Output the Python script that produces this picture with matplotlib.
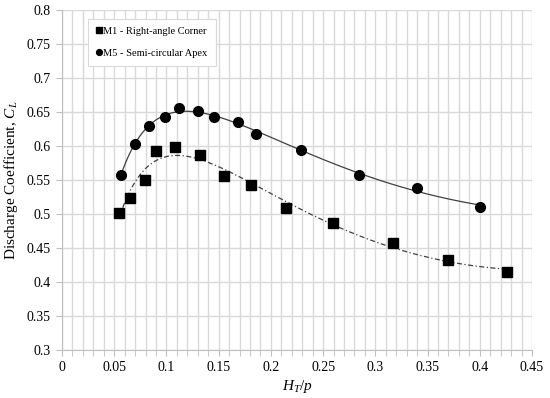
import numpy as np
import matplotlib
matplotlib.use("Agg")
import matplotlib.pyplot as plt
from matplotlib.ticker import MultipleLocator, FuncFormatter

plt.rcParams['font.family'] = ['Liberation Serif', 'DejaVu Serif']
plt.rcParams['mathtext.fontset'] = 'custom'
plt.rcParams['mathtext.rm'] = 'Liberation Serif'
plt.rcParams['mathtext.it'] = 'Liberation Serif:italic'

# M1 - Right-angle Corner
m1_x = [0.0546, 0.0651, 0.0795, 0.0900, 0.1082, 0.1319, 0.1555, 0.1807, 0.2142, 0.2593, 0.3174, 0.3697, 0.4258]
m1_y = [0.501, 0.524, 0.550, 0.592, 0.598, 0.587, 0.556, 0.543, 0.509, 0.487, 0.458, 0.433, 0.414]
# M5 - Semi-circular Apex
m5_x = [0.0562, 0.0699, 0.0837, 0.0987, 0.1121, 0.1300, 0.1456, 0.1683, 0.1858, 0.2289, 0.2845, 0.3400, 0.4004]
m5_y = [0.557, 0.603, 0.629, 0.643, 0.656, 0.651, 0.643, 0.635, 0.618, 0.594, 0.558, 0.538, 0.511]

fig = plt.figure(figsize=(5.5, 3.98), dpi=100)
ax = fig.add_axes([0.1127, 0.1206, 0.8545, 0.8543])

grid_c = '#d9d9d9'
ax.set_xlim(0, 0.45)
ax.set_ylim(0.3, 0.8)
ax.xaxis.set_major_locator(MultipleLocator(0.05))
ax.xaxis.set_minor_locator(MultipleLocator(0.01))
ax.yaxis.set_major_locator(MultipleLocator(0.05))
fmt = FuncFormatter(lambda v, pos: f'{round(v, 2):g}')
ax.xaxis.set_major_formatter(fmt)
ax.yaxis.set_major_formatter(fmt)
ax.grid(which='both', axis='x', color=grid_c, linewidth=1.0)
ax.grid(which='major', axis='y', color=grid_c, linewidth=1.0)
ax.set_axisbelow(True)
for s in ['top', 'right']:
    ax.spines[s].set_visible(False)
for s in ['left', 'bottom']:
    ax.spines[s].set_color('#bfbfbf')
ax.tick_params(which='both', direction='out', color='#bfbfbf', length=4, labelsize=10, pad=4)

# trendlines
def trend(x, y, deg):
    p = np.polyfit(np.log(x), y, deg)
    xs = np.linspace(min(x), max(x), 300)
    return xs, np.polyval(p, np.log(xs))

xs, ys = trend(m1_x, m1_y, 4)
ax.plot(xs, ys, color='#404040', linewidth=0.9, linestyle=(0, (4, 2, 1, 2)))
xs, ys = trend(m5_x, m5_y, 4)
ax.plot(xs, ys, color='#404040', linewidth=0.9, linestyle='-')

ax.plot(m1_x, m1_y, linestyle='none', marker='s', color='black', markersize=6.5,
        label='M1 - Right-angle Corner')
ax.plot(m5_x, m5_y, linestyle='none', marker='o', color='black', markersize=7,
        label='M5 - Semi-circular Apex')

leg = ax.legend(loc='upper left', bbox_to_anchor=(0.045, 0.99), fontsize=7.5,
                frameon=True, fancybox=False, edgecolor='#d9d9d9',
                handlelength=0.5, handletextpad=0.2, borderpad=0.75,
                labelspacing=1.25, markerscale=0.6, framealpha=1)
leg.get_frame().set_linewidth(0.8)

ax.set_xlabel('$H_T/p$', fontsize=11, labelpad=3)
ax.set_ylabel('Discharge Coefficient, $C_L$', fontsize=11, labelpad=5)

fig.savefig('out.png', dpi=100)
